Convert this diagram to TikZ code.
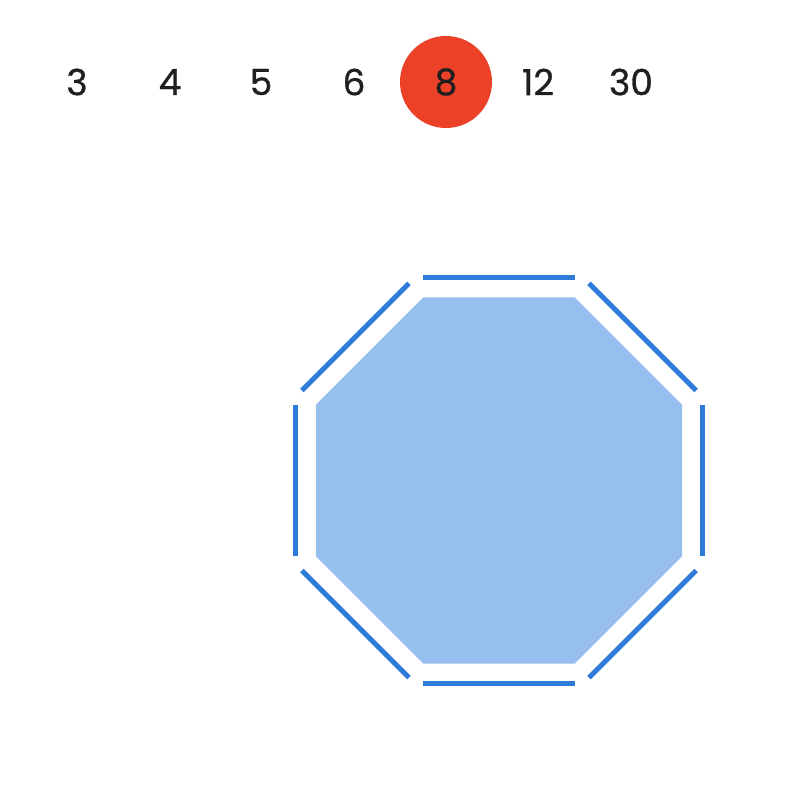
\documentclass[tikz,border=0pt]{standalone}
\usepackage{fontspec}
\setmainfont{Poppins}[FakeBold=0.8]
\usetikzlibrary{calc}
\definecolor{numred}{HTML}{EA4127}
\definecolor{octfill}{HTML}{96BEEE}
\definecolor{octline}{HTML}{2F7BDA}
\definecolor{ink}{HTML}{1F1F1F}
\begin{document}
\begin{tikzpicture}[x=1pt,y=-1pt,
  num/.style={font=\fontsize{36}{36}\selectfont, text=ink, inner sep=0pt},
  picked/.style={circle, fill=numred, minimum size=92pt},
  edgeline/.style={draw=octline, line width=5pt, line cap=butt}]
\useasboundingbox (0,0) rectangle (800,800);
\foreach \n/\x in {3/77,4/170,5/261,6/354,12/538,30/631}
  \node[num] (n\n) at (\x,82) {\n};
\node[num, picked] (n8) at (446,82) {8};
\coordinate (c) at (499,480.5);
\fill[octfill] ($(c)+(22.5:198.1)$)
  \foreach \k in {1,...,7} { -- ($(c)+(22.5+45*\k:198.1)$) } -- cycle;
\foreach \k in {0,...,7}
  \draw[edgeline] ($(c)+(22.5+45*\k:198.1)+(45+45*\k:20)$) -- ($(c)+(67.5+45*\k:198.1)+(45+45*\k:20)$);
\end{tikzpicture}
\end{document}
